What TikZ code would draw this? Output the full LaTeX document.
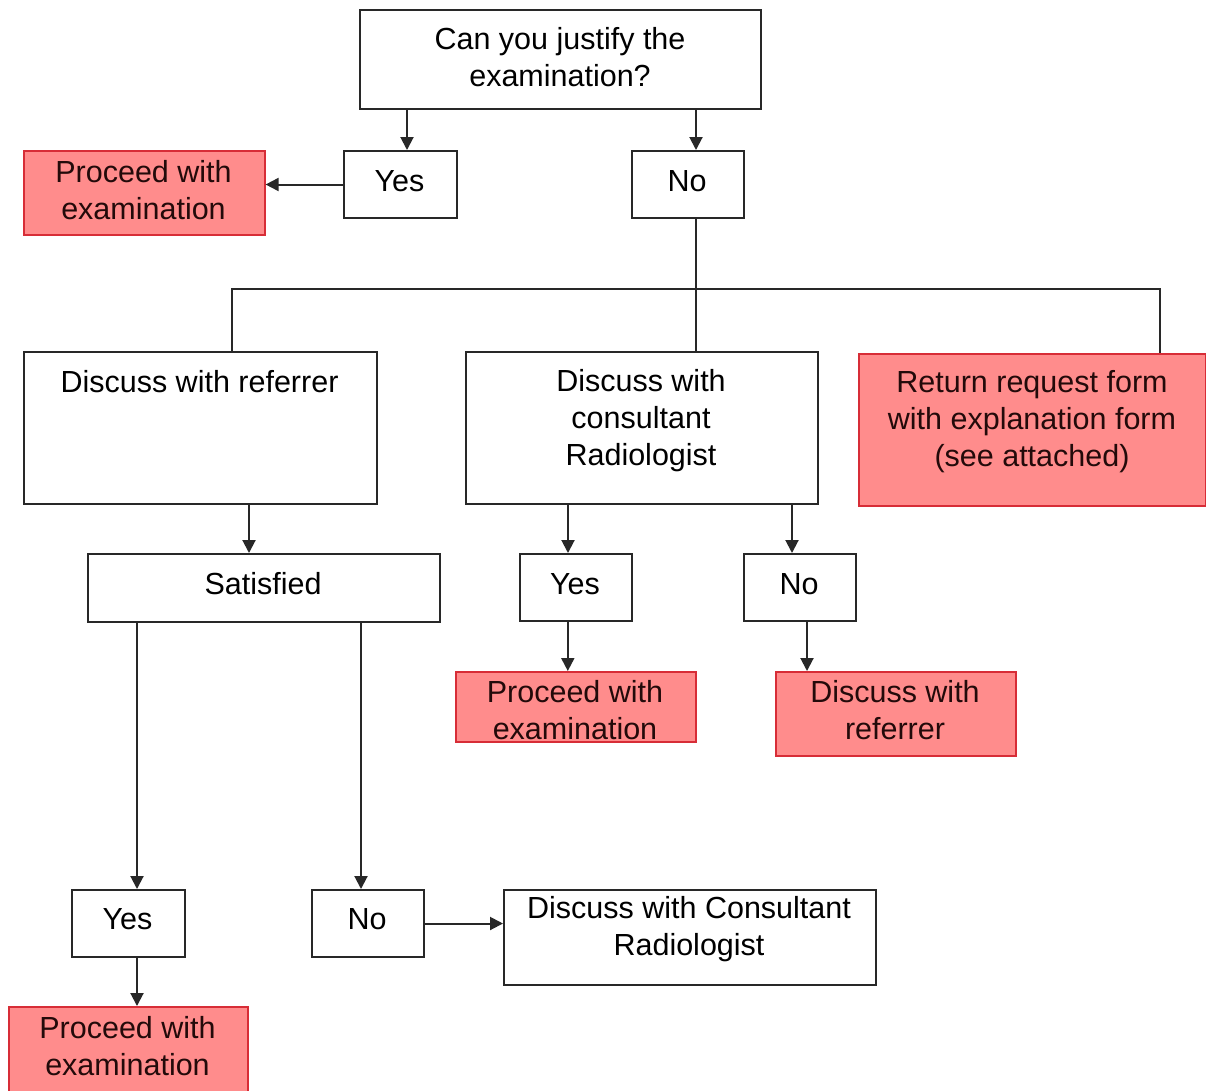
\documentclass[tikz,border=0pt]{standalone}
\usepackage{fontspec}
\setmainfont{Liberation Sans}
\usetikzlibrary{arrows.meta,calc}
\definecolor{edge}{RGB}{40,40,40}
\definecolor{alertfill}{RGB}{255,140,140}
\definecolor{alertline}{RGB}{215,45,55}
\definecolor{alerttext}{RGB}{35,10,10}
\begin{document}
\begin{tikzpicture}[x=1pt,y=-1pt,
  plain/.style={draw=edge, line width=2pt, fill=white, inner sep=0pt, anchor=north west},
  alert/.style={draw=alertline, line width=1.6pt, fill=alertfill, inner sep=0pt, anchor=north west},
  label txt/.style={font=\fontsize{30.5}{37}\selectfont, align=center, inner sep=0pt, text=black},
  alert txt/.style={label txt, text=alerttext},
  ln/.style={draw=edge, line width=2pt},
  arr/.style={ln, -{Triangle[length=13pt,width=13pt]}}]
\clip (0,0) rectangle (1206,1090);
\fill[white] (0,0) rectangle (1206,1090);

% boxes
\node[plain, minimum width=401pt, minimum height=99pt] (top) at (359,9) {};
\node[plain, minimum width=113pt, minimum height=67pt] (yesA) at (343,150) {};
\node[plain, minimum width=112pt, minimum height=67pt] (noA) at (631,150) {};
\node[alert, minimum width=241pt, minimum height=84pt] (procA) at (23,150) {};
\node[plain, minimum width=353pt, minimum height=152pt] (refA) at (23,351) {};
\node[plain, minimum width=352pt, minimum height=152pt] (consA) at (465,351) {};
\node[alert, minimum width=347pt, minimum height=152pt] (retA) at (858,353) {};
\node[plain, minimum width=352pt, minimum height=68pt] (sat) at (87,553) {};
\node[plain, minimum width=112pt, minimum height=67pt] (yesB) at (519,553) {};
\node[plain, minimum width=112pt, minimum height=67pt] (noB) at (743,553) {};
\node[alert, minimum width=240pt, minimum height=70pt] (procB) at (455,671) {};
\node[alert, minimum width=240pt, minimum height=84pt] (refB) at (775,671) {};
\node[plain, minimum width=113pt, minimum height=67pt] (yesC) at (71,889) {};
\node[plain, minimum width=112pt, minimum height=67pt] (noC) at (311,889) {};
\node[plain, minimum width=372pt, minimum height=95pt] (consB) at (503,889) {};
\node[alert, minimum width=239pt, minimum height=100pt] (procC) at (8,1006) {};

% texts
\node[label txt] (topT) at (560,57) {Can you justify the\\examination?};
\node[label txt] (yesAT) at (399.5,181) {Yes};
\node[label txt] (noAT) at (687,181) {No};
\node[alert txt] (procAT) at (143.5,190) {Proceed with\\examination};
\node[label txt] (refAT) at (199.5,382) {Discuss with referrer};
\node[label txt] (consAT) at (641,421) {Discuss with\\consultant\\Radiologist};
\node[alert txt] (retAT) at (1032,422) {Return request form\\with explanation form\\(see attached)};
\node[label txt] (satT) at (263,584) {Satisfied};
\node[label txt] (yesBT) at (575,584) {Yes};
\node[label txt] (noBT) at (799,584) {No};
\node[alert txt] (procBT) at (575,710.5) {Proceed with\\examination};
\node[alert txt] (refBT) at (895,710.5) {Discuss with\\referrer};
\node[label txt] (yesCT) at (127.5,919) {Yes};
\node[label txt] (noCT) at (367,919) {No};
\node[label txt] (consBT) at (689,929) {Discuss with Consultant\\Radiologist};
\node[alert txt] (procCT) at (127.5,1046) {Proceed with\\examination};

% connector positions
\coordinate (yA) at ($(yesA.north)+(6.5,0)$);
\coordinate (nA) at ($(noA.north)+(8,0)$);
\coordinate (nAs) at ($(noA.south)+(8,0)$);
\coordinate (split) at ($(nAs)+(0,70)$);
\coordinate (rTop) at ($(refA.north)+(31.5,0)$);
\coordinate (qTop) at ($(retA.north)+(127.5,0)$);
\coordinate (sIn) at ($(sat.north)+(-15,0)$);
\coordinate (yB) at ($(yesB.north)+(-8,0)$);
\coordinate (nB) at ($(noB.north)+(-8,0)$);
\coordinate (pB) at ($(procB.north)+(-8,0)$);
\coordinate (rB) at ($(noB.south)+(7,0)$);
\coordinate (yC) at ($(yesC.north)+(8.5,0)$);
\coordinate (nC) at ($(noC.north)+(-7,0)$);
\coordinate (pC) at ($(yesC.south)+(8.5,0)$);

% connectors
\draw[arr] (top.south -| yA) -- (yA);
\draw[arr] (top.south -| nA) -- (nA);
\draw[arr] (yesA.west) -- (yesA.west -| procA.east);
\draw[ln] (nAs) -- (split);
\draw[ln] (rTop) |- (split) -| (qTop);
\draw[ln] (split) -- (consA.north -| split);
\draw[arr] (refA.south -| sIn) -- (sIn);
\draw[arr] (consA.south -| yB) -- (yB);
\draw[arr] (consA.south -| nB) -- (nB);
\draw[arr] (yesB.south -| pB) -- (pB);
\draw[arr] (rB) -- (refB.north -| rB);
\draw[arr] (sat.south -| yC) -- (yC);
\draw[arr] (sat.south -| nC) -- (nC);
\draw[arr] (noC.east) -- (noC.east -| consB.west);
\draw[arr] (pC) -- (procC.north -| pC);
\end{tikzpicture}
\end{document}
